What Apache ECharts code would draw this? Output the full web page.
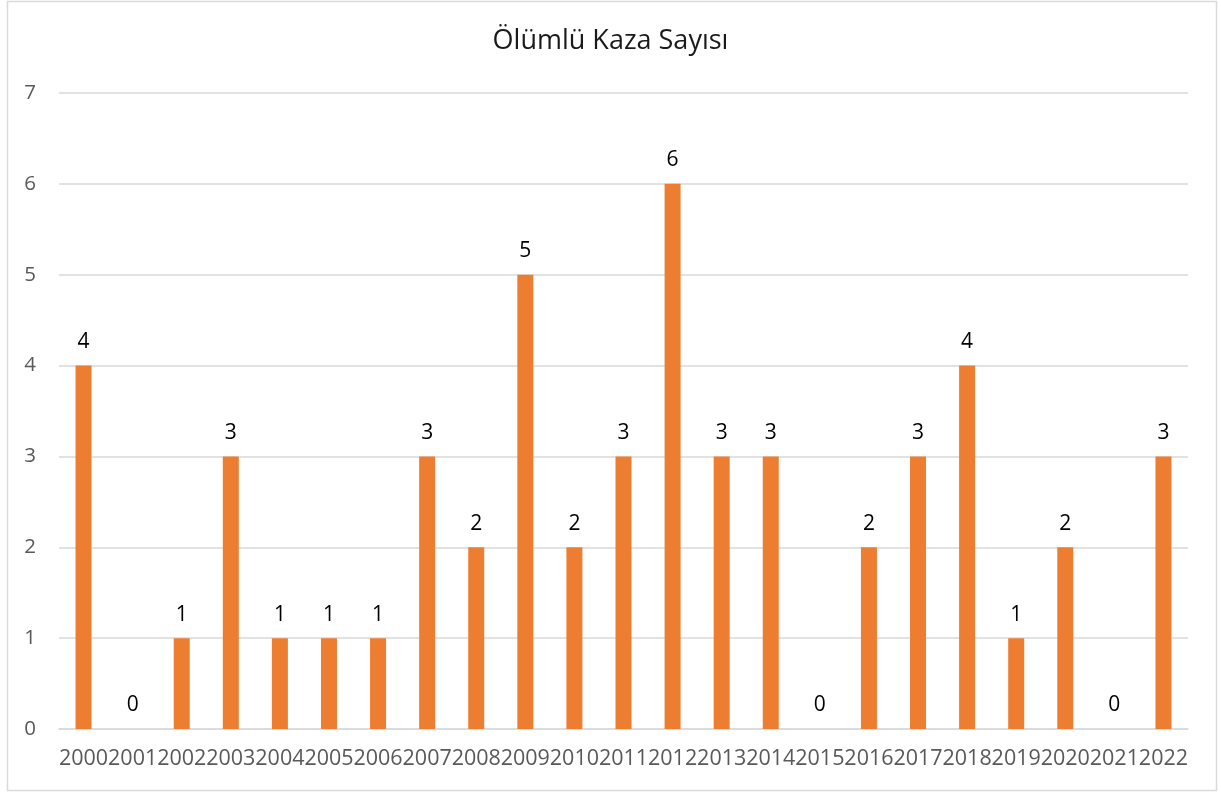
<!DOCTYPE html>
<html>
<head>
<meta charset="utf-8">
<script src="https://cdn.jsdelivr.net/npm/echarts@6/dist/echarts.min.js"></script>
<style>html,body{margin:0;padding:0;background:#fff;}#c{width:1221px;height:793px;}</style>
</head>
<body>
<div id="c"></div>
<script>
const titleText = "Ölümlü Kaza Sayısı";
const years = ["2000","2001","2002","2003","2004","2005","2006","2007","2008","2009","2010","2011","2012","2013","2014","2015","2016","2017","2018","2019","2020","2021","2022"];
const values = [4,0,1,3,1,1,1,3,2,5,2,3,6,3,3,0,2,3,4,1,2,0,3];

const chart = echarts.init(document.getElementById('c'), null, {renderer:'canvas'});
chart.setOption({
  backgroundColor:'#fff',
  animation:false,
  title:{
    text:titleText, left:'center', top:23,
    textStyle:{fontFamily:'Open Sans', fontSize:27, fontWeight:'normal', color:'#1a1a1a'}
  },
  graphic:[{type:'rect', shape:{x:7.5,y:1.5,width:1209,height:789}, style:{fill:null, stroke:'#d9d9d9', lineWidth:1.5}, silent:true}],
  grid:{left:59, right:33, top:93, bottom:64, containLabel:false},
  xAxis:{
    type:'category', data:years,
    axisLine:{lineStyle:{color:'#d9d9d9', width:1.5}},
    axisTick:{show:false},
    axisLabel:{interval:0, color:'#595959', fontFamily:'Open Sans', fontSize:21.5, margin:19}
  },
  yAxis:{
    type:'value', min:0, max:7, interval:1,
    axisLine:{show:false}, axisTick:{show:false},
    splitLine:{lineStyle:{color:'#d9d9d9', width:1.5}},
    axisLabel:{color:'#595959', fontFamily:'Open Sans', fontSize:20.5, margin:23}
  },
  series:[{
    type:'bar', data:values, barWidth:16,
    itemStyle:{color:'#ed7d31'},
    label:{show:true, position:'top', distance:13, color:'#000', fontFamily:'Open Sans', fontSize:21}
  }]
});
</script>
</body>
</html>
